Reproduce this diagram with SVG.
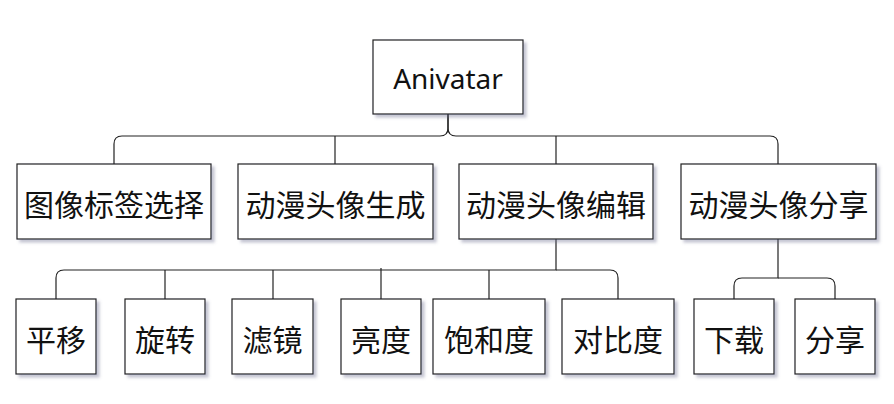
<svg xmlns="http://www.w3.org/2000/svg" width="894" height="404" viewBox="0 0 894 404">
<defs>
<filter id="sh" x="-10%" y="-10%" width="130%" height="140%">
<feDropShadow dx="3" dy="3" stdDeviation="1.6" flood-color="#6a7090" flood-opacity="0.4"/>
</filter>
<style>
.box{fill:#fff;stroke:#222;stroke-width:1.2;filter:url(#sh)}
.t{font-family:"Noto Sans CJK SC","Noto Sans",sans-serif;font-size:30px;fill:#111;text-anchor:middle;dominant-baseline:central}
.en{font-family:"Noto Sans","Liberation Sans",sans-serif;font-size:28px}
.c{fill:none;stroke:#222;stroke-width:1.2}
</style>
</defs>
<rect width="894" height="404" fill="#fff"/>
<g id="connectors">
<path class="c" d="M448,114 V128 Q448,136 440,136 H122 Q114,136 114,144 V164"/>
<path class="c" d="M448,114 V128 Q448,136 456,136 H770 Q778,136 778,144 V164"/>
<path class="c" d="M335,136 V164"/>
<path class="c" d="M556,136 V164"/>
<path class="c" d="M556,239 V270 H64 Q56,270 56,278 V299"/>
<path class="c" d="M556,270 H610 Q618,270 618,278 V299"/>
<path class="c" d="M165,270 V299"/>
<path class="c" d="M273,270 V299"/>
<path class="c" d="M381,268 V299"/>
<path class="c" d="M489,270 V299"/>
<path class="c" d="M778,239 V278 H742 Q734,278 734,286 V299"/>
<path class="c" d="M778,278 H827 Q835,278 835,286 V299"/>
</g>
<g id="root"><rect class="box" x="373" y="40" width="150" height="74"/><text class="t en" x="448" y="78">Anivatar</text></g>
<g id="n1"><rect class="box" x="17" y="164" width="194" height="75"/><text class="t" x="114" y="203">图像标签选择</text></g>
<g id="n2"><rect class="box" x="238" y="164" width="195" height="75"/><text class="t" x="335.5" y="203">动漫头像生成</text></g>
<g id="n3"><rect class="box" x="459" y="164" width="194" height="75"/><text class="t" x="556" y="203">动漫头像编辑</text></g>
<g id="n4"><rect class="box" x="681" y="164" width="195" height="75"/><text class="t" x="778.5" y="203">动漫头像分享</text></g>
<g id="e1"><rect class="box" x="16" y="299" width="80" height="75"/><text class="t" x="56" y="338">平移</text></g>
<g id="e2"><rect class="box" x="125" y="299" width="80" height="75"/><text class="t" x="165" y="338">旋转</text></g>
<g id="e3"><rect class="box" x="232" y="299" width="81" height="75"/><text class="t" x="272.5" y="338">滤镜</text></g>
<g id="e4"><rect class="box" x="341" y="299" width="80" height="75"/><text class="t" x="381" y="338">亮度</text></g>
<g id="e5"><rect class="box" x="433" y="299" width="112" height="75"/><text class="t" x="489" y="338">饱和度</text></g>
<g id="e6"><rect class="box" x="562" y="299" width="112" height="75"/><text class="t" x="618" y="338">对比度</text></g>
<g id="s1"><rect class="box" x="694" y="299" width="80" height="75"/><text class="t" x="734" y="338">下载</text></g>
<g id="s2"><rect class="box" x="795" y="299" width="80" height="75"/><text class="t" x="835" y="338">分享</text></g>
</svg>
